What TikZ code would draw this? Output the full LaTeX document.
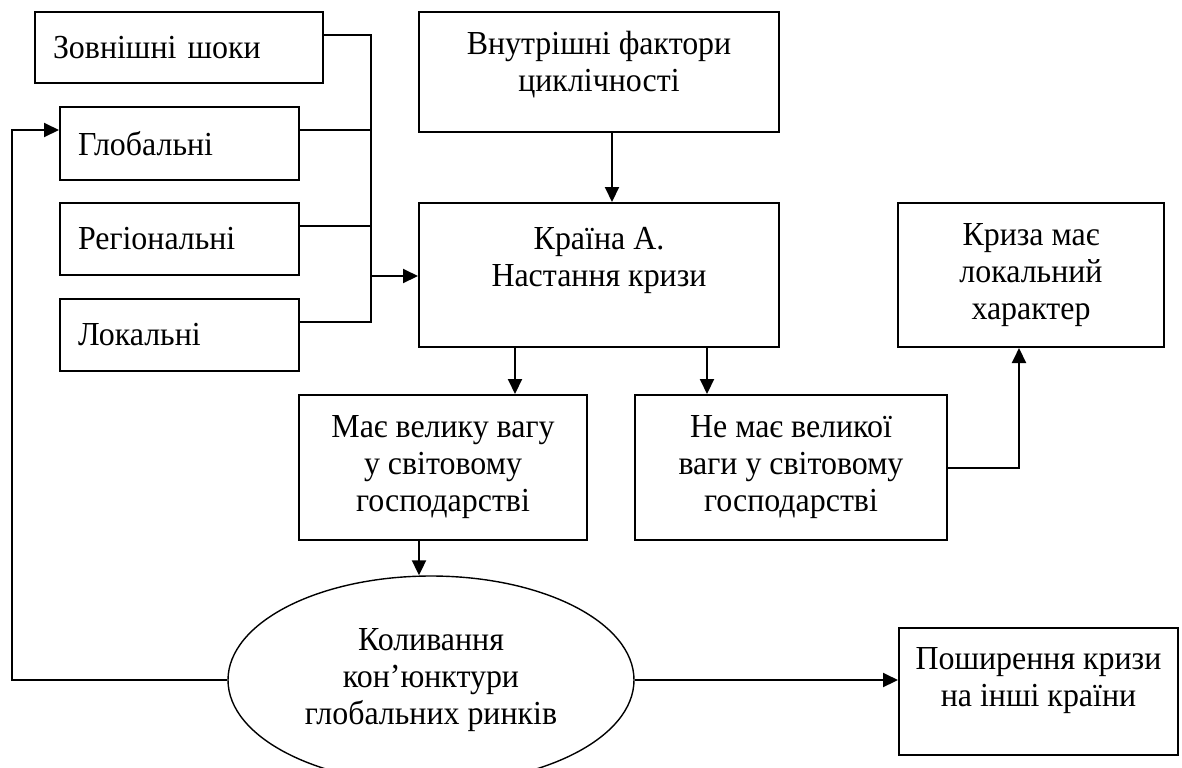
\documentclass[tikz,border=0pt]{standalone}
\usepackage{fontspec}
\setmainfont{Liberation Serif}[FakeStretch=0.95]
\usetikzlibrary{arrows.meta,shapes.geometric}

\tikzset{
  blok/.style={draw, rectangle, line width=1pt, inner sep=0pt, align=center},
  lblok/.style={blok, align=left, text width=#1, inner xsep=9pt},
  strilka/.style={line width=1pt, -{Triangle[length=7.5pt,width=7pt]}},
  liniya/.style={line width=1pt}
}

\begin{document}
\begin{tikzpicture}[x=0.5pt,y=-0.5pt,font=\fontsize{16.8}{18.5}\selectfont]
\useasboundingbox (0,0) rectangle (1182,767);
\clip (0,0) rectangle (1182,767);
% shocks
\node[lblok=126pt, minimum height=35.5pt] (shocks) at (179,47.5) {Зовнішні шоки};
\node[lblok=101.5pt, minimum height=36.5pt] (global) at (179.5,143.5) {Глобальні};
\node[lblok=101.5pt, minimum height=36pt] (regional) at (179.5,239) {Регіональні};
\node[lblok=101.5pt, minimum height=36pt] (local) at (179.5,335) {Локальні};
% country and outcomes
\node[blok, minimum width=180pt, minimum height=60pt] (inner) at (599,72) {Внутрішні фактори\\ циклічності\\[-8pt]\mbox{}};
\node[blok, minimum width=180pt, minimum height=72pt] (country) at (599,275) {Країна А.\\ Настання кризи\\ \mbox{}};
\node[blok, minimum width=133pt, minimum height=72pt] (localchar) at (1031,275) {Криза має\\ локальний\\ характер};
\node[blok, minimum width=144pt, minimum height=72.5pt] (big) at (443,467.5) {Має велику вагу\\ у світовому\\ господарстві};
\node[blok, minimum width=156pt, minimum height=72.5pt] (small) at (791,467.5) {Не має великої\\ ваги у світовому\\ господарстві};
\node[ellipse, draw, line width=0.7pt, inner sep=0pt, minimum width=203pt, minimum height=104pt, align=center] (fluct) at (431,680) {Коливання\\ кон’юнктури\\ глобальних ринків};
\node[blok, minimum width=139.5pt, minimum height=63.5pt] (spread) at (1038.5,691.5) {Поширення кризи\\ на інші країни\\[-4pt]\mbox{}};
% connectors
\coordinate (bus) at (371,276);
\coordinate (fbx) at (12,0);
\foreach \n in {shocks,global,regional,local}
  \draw[liniya] ([yshift=-12pt]\n.north east) -| (bus);
\draw[strilka] (bus) -- (bus -| country.west);
\draw[strilka] ([xshift=6.5pt]inner.south) -- ([xshift=6.5pt]country.north);
\draw[strilka] ([xshift=-42pt]country.south) coordinate (c1) -- (c1 |- big.north);
\draw[strilka] ([xshift=54pt]country.south) coordinate (c2) -- (c2 |- small.north);
\draw[strilka] (small.east) -| ([xshift=-6pt]localchar.south);
\draw[strilka] ([xshift=-12pt]big.south) coordinate (c3) -- (c3 |- fluct.north);
\draw[strilka] (fluct.east) -- (fluct.east -| spread.west);
\draw[strilka] (fluct.west) -- (fluct.west -| fbx) |- ([yshift=-12pt]global.north west);
\end{tikzpicture}
\end{document}
